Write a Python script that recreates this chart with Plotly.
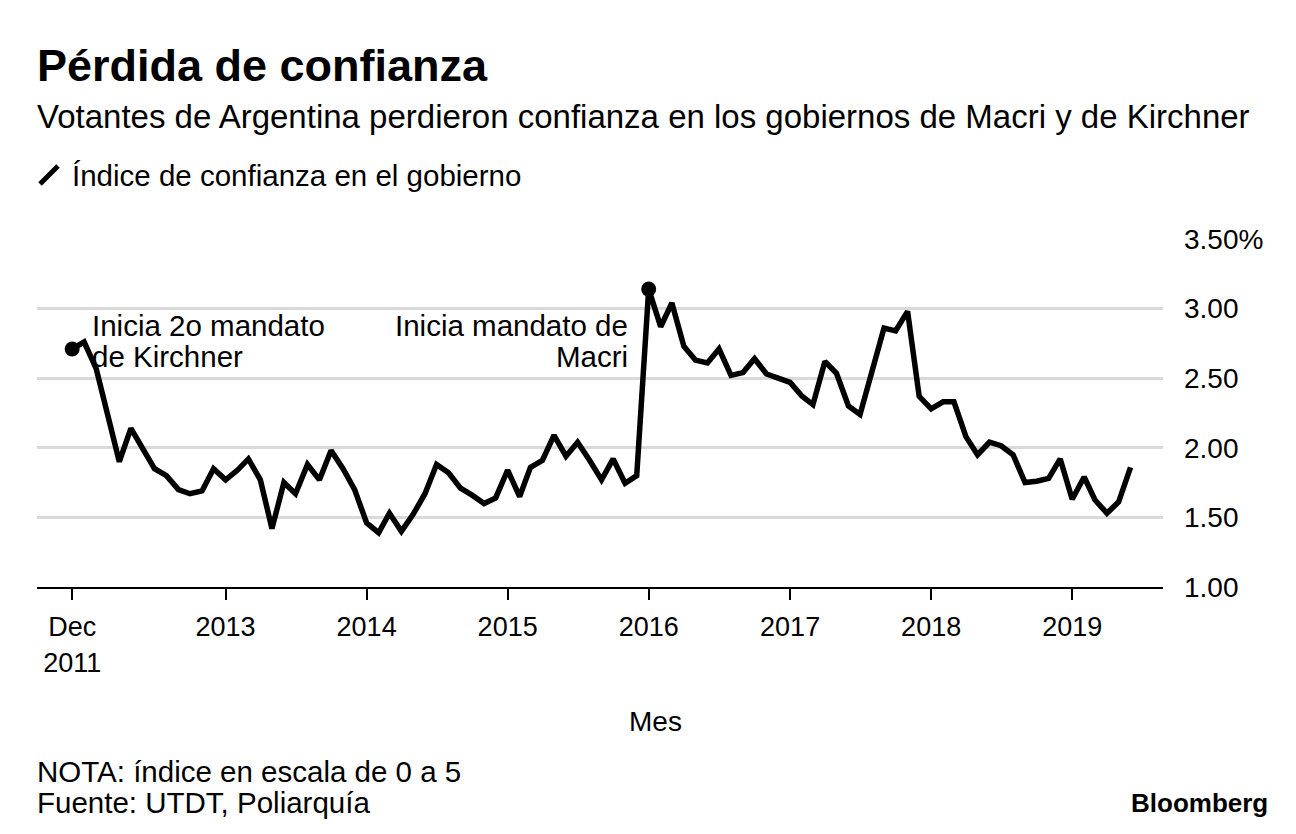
import pandas as pd
import plotly.graph_objects as go

# ---- data ----
months = pd.date_range("2011-12-01", periods=91, freq="MS")
confidence = [
    2.71, 2.76, 2.57, 2.24, 1.90, 2.14, 2.00, 1.85, 1.80, 1.70, 1.67, 1.69,
    1.85, 1.77, 1.84, 1.92, 1.77, 1.42, 1.75, 1.67, 1.88, 1.77, 1.98, 1.85,
    1.70, 1.46, 1.39, 1.53, 1.40, 1.52, 1.67, 1.88, 1.82, 1.71, 1.66, 1.60,
    1.64, 1.84, 1.65, 1.86, 1.91, 2.09, 1.94, 2.04, 1.91, 1.77, 1.92, 1.745,
    1.80, 3.14, 2.87, 3.04, 2.73, 2.63, 2.61, 2.71, 2.52, 2.54, 2.64, 2.53,
    2.50, 2.47, 2.37, 2.31, 2.62, 2.535, 2.30, 2.24, 2.55, 2.86, 2.84, 2.98,
    2.37, 2.28, 2.33, 2.33, 2.08, 1.95, 2.04, 2.015, 1.95, 1.75, 1.76, 1.78,
    1.92, 1.63, 1.79, 1.625, 1.53, 1.61, 1.86,
]
event_idx = [0, 49]

x_tickvals = ["2011-12-01", "2013-01-01", "2014-01-01", "2015-01-01",
              "2016-01-01", "2017-01-01", "2018-01-01", "2019-01-01"]
x_ticktext = ["Dec<br>2011", "2013", "2014", "2015", "2016", "2017", "2018", "2019"]
y_tickvals = [1.0, 1.5, 2.0, 2.5, 3.0, 3.5]
y_ticktext = ["1.00", "1.50", "2.00", "2.50", "3.00", "3.50%"]

FONT = "Liberation Sans, Arial, Helvetica, sans-serif"
W, H = 1296, 834
L, R, T, B = 37, 1163, 239, 587


def px(x):
    return (x - L) / (R - L)


def py(y):
    return (B - y) / (B - T)


fig = go.Figure()
fig.add_trace(go.Scatter(
    x=months, y=confidence, mode="lines",
    line=dict(color="black", width=5.5, shape="linear"),
    hoverinfo="x+y", showlegend=False,
))
fig.add_trace(go.Scatter(
    x=[months[i] for i in event_idx], y=[confidence[i] for i in event_idx],
    mode="markers", marker=dict(color="black", size=15),
    showlegend=False, hoverinfo="skip",
))

fig.update_layout(
    width=W, height=H,
    margin=dict(l=L, r=W - R, t=T, b=H - B, pad=0),
    paper_bgcolor="white", plot_bgcolor="white",
    font=dict(family=FONT, color="black", size=28),
    showlegend=False,
    xaxis=dict(
        type="date", range=["2011-09-01", "2019-08-24"],
        tickvals=x_tickvals, ticktext=x_ticktext,
        ticks="outside", ticklen=11, tickwidth=2, tickcolor="black",
        showline=True, linecolor="black", linewidth=2,
        showgrid=False, zeroline=False,
        tickfont=dict(size=27, family=FONT),
        ticklabelstandoff=4,
    ),
    yaxis=dict(
        range=[1.0, 3.5], side="right",
        tickvals=y_tickvals, ticktext=y_ticktext,
        showgrid=True, gridcolor="#d9d9d9", gridwidth=3,
        zeroline=False, showline=False, ticks="",
        tickfont=dict(size=28, family=FONT),
        ticklabelstandoff=20,
    ),
)

ann = []
def text(x, y, s, size=29, xanchor="left", yanchor="middle"):
    ann.append(dict(
        x=px(x), y=py(y), xref="paper", yref="paper", text=s, showarrow=False,
        xanchor=xanchor, yanchor=yanchor,
        font=dict(size=size, family=FONT, color="black"),
    ))

text(35, 65, "<b>Pérdida de confianza</b>", size=45)
text(35, 117, "Votantes de Argentina perdieron confianza en los gobiernos de Macri y de Kirchner", size=33)
text(70, 175, "Índice de confianza en el gobierno", size=29.5)
text(90, 325, "Inicia 2o mandato", size=29.5)
text(90, 356, "de Kirchner", size=29.5)
text(630, 325, "Inicia mandato de", size=29.5, xanchor="right")
text(630, 356, "Macri", size=29.5, xanchor="right")
text(655, 721, "Mes", size=28, xanchor="center")
text(35, 771, "NOTA: índice en escala de 0 a 5", size=29.5)
text(35, 802, "Fuente: UTDT, Poliarquía", size=29.5)
text(1270, 803, "<b>Bloomberg</b>", size=26, xanchor="right")
fig.update_layout(annotations=ann)

# legend slash icon
fig.add_shape(type="line", xref="paper", yref="paper",
              x0=px(40), y0=py(184), x1=px(58), y1=py(166),
              line=dict(color="black", width=5))

fig.write_html("out.html")
